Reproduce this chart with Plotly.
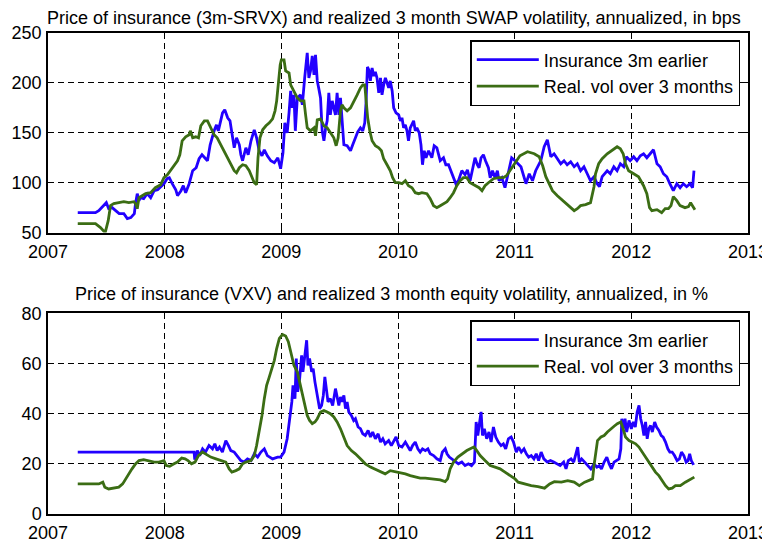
import plotly.graph_objects as go

# ---------------- Top panel: SWAP (bps) ----------------
swap_ins_t = [2007.255, 2007.407, 2007.435, 2007.478, 2007.50, 2007.52, 2007.55, 2007.58, 2007.61, 2007.65,
              2007.68, 2007.71, 2007.74, 2007.75, 2007.765, 2007.78, 2007.79, 2007.82, 2007.85, 2007.88,
              2007.91, 2007.94, 2007.965, 2007.995, 2008.02, 2008.04, 2008.065, 2008.095, 2008.11, 2008.14,
              2008.16, 2008.18, 2008.21, 2008.24, 2008.27, 2008.295, 2008.32, 2008.34, 2008.367, 2008.39,
              2008.41, 2008.424, 2008.444, 2008.46, 2008.48, 2008.496, 2008.515, 2008.54, 2008.56, 2008.58,
              2008.596, 2008.616, 2008.64, 2008.653, 2008.668, 2008.696, 2008.716, 2008.74, 2008.768, 2008.788,
              2008.81, 2008.834, 2008.854, 2008.88, 2008.91, 2008.94, 2008.97, 2008.994,
              2009.014, 2009.03, 2009.05, 2009.066, 2009.08, 2009.094, 2009.108, 2009.12, 2009.137, 2009.165,
              2009.18, 2009.2, 2009.222, 2009.236, 2009.25, 2009.265, 2009.28, 2009.293, 2009.308, 2009.32,
              2009.336, 2009.35, 2009.365, 2009.38, 2009.393, 2009.407, 2009.42, 2009.436, 2009.464, 2009.478,
              2009.493, 2009.507, 2009.52, 2009.536, 2009.564, 2009.593, 2009.612, 2009.635, 2009.655, 2009.678,
              2009.698, 2009.715, 2009.726, 2009.738, 2009.75, 2009.763, 2009.778, 2009.792, 2009.806, 2009.82,
              2009.835, 2009.85, 2009.863, 2009.877, 2009.892, 2009.92, 2009.934, 2009.95, 2009.963, 2009.983,
              2010.006, 2010.02, 2010.034, 2010.048, 2010.063, 2010.077, 2010.09, 2010.105, 2010.12, 2010.134,
              2010.148, 2010.162, 2010.182, 2010.197, 2010.21, 2010.225, 2010.24, 2010.262, 2010.29, 2010.31,
              2010.333, 2010.362, 2010.39, 2010.41, 2010.433, 2010.453, 2010.48, 2010.496, 2010.518, 2010.547,
              2010.575, 2010.595, 2010.618, 2010.638, 2010.66, 2010.68, 2010.695, 2010.712, 2010.732, 2010.75,
              2010.775, 2010.79, 2010.81, 2010.832, 2010.852, 2010.866, 2010.89, 2010.917, 2010.937, 2010.954,
              2010.974, 2011.003,
              2011.026, 2011.054, 2011.097, 2011.125, 2011.153, 2011.18, 2011.224, 2011.253, 2011.28, 2011.295,
              2011.31, 2011.338, 2011.366, 2011.395, 2011.423, 2011.45, 2011.48, 2011.51, 2011.537, 2011.565,
              2011.594, 2011.622, 2011.65, 2011.68, 2011.707, 2011.727, 2011.75, 2011.793, 2011.82, 2011.85,
              2011.878, 2011.906, 2011.935, 2011.957, 2011.99, 2012.02, 2012.048, 2012.077, 2012.105, 2012.133,
              2012.16, 2012.19, 2012.22, 2012.247, 2012.275, 2012.304, 2012.33, 2012.36, 2012.39, 2012.418,
              2012.446, 2012.474, 2012.503, 2012.525, 2012.537]
swap_ins_v = [70, 70, 72, 77, 80, 74, 75, 72, 69, 69,
              64, 65, 69, 79, 89, 82, 85, 84, 89, 85,
              92, 93, 96, 99, 104, 105, 99, 93, 87, 92,
              97, 90, 99, 112, 115, 124, 128, 125, 122, 138,
              148, 152, 158, 152, 162, 170, 173, 165, 162, 145,
              135, 145, 138, 128, 122, 135, 128, 142, 153, 145,
              132, 127, 133, 127, 122, 120, 125, 114,
              130, 160, 150, 170, 192, 175, 188, 152, 185, 188,
              178, 205, 230, 205, 212, 227, 208, 228, 202, 195,
              185, 152, 142, 155, 162, 190, 168, 182, 168, 190,
              168, 185, 162, 138, 137, 132, 138, 145, 151, 155,
              152, 160, 180, 216, 213, 202, 215, 207, 211, 205,
              190, 205, 188, 198, 205, 195, 202, 192, 175, 170,
              168, 162, 165, 155, 158, 152, 142, 155, 158, 162,
              152, 155, 150, 138, 118, 132, 125, 132, 125, 137,
              135, 122, 125, 118, 118, 112, 105, 99, 102, 112,
              108, 113, 102, 112, 125, 118, 115, 125, 128, 122,
              115, 105, 112, 105, 112, 102, 105, 95, 105, 112,
              125, 122,
              119, 116, 99, 109, 102, 112, 122, 136, 143, 133,
              126, 129, 124, 119, 122, 118, 121, 116, 119, 112,
              116, 109, 102, 106, 99, 96, 106, 112, 109, 116,
              112, 119, 116, 126, 122, 126, 122, 127, 129, 125,
              129, 133, 119, 116, 109, 106, 99, 92, 99, 95,
              99, 96, 99, 95, 112]

swap_vol_t = [2007.255, 2007.407, 2007.45, 2007.49, 2007.516, 2007.536, 2007.564, 2007.607, 2007.65, 2007.693,
              2007.736, 2007.75, 2007.765, 2007.78, 2007.81, 2007.837, 2007.88, 2007.92, 2007.966, 2007.994,
              2008.023, 2008.05, 2008.08, 2008.11, 2008.13, 2008.15, 2008.18, 2008.21, 2008.22, 2008.24,
              2008.266, 2008.29, 2008.31, 2008.34, 2008.367, 2008.395, 2008.424, 2008.45, 2008.48, 2008.51,
              2008.54, 2008.567, 2008.596, 2008.616, 2008.64, 2008.668, 2008.696, 2008.725, 2008.748, 2008.768,
              2008.788, 2008.80, 2008.817, 2008.84, 2008.868, 2008.897, 2008.925, 2008.946, 2008.96, 2008.974,
              2008.99, 2009.0, 2009.023, 2009.037, 2009.066, 2009.08, 2009.108, 2009.137, 2009.165, 2009.194,
              2009.208, 2009.222, 2009.25, 2009.28, 2009.293, 2009.308, 2009.336, 2009.365, 2009.393, 2009.42,
              2009.45, 2009.47, 2009.487, 2009.507, 2009.52, 2009.536, 2009.564, 2009.593, 2009.62, 2009.65,
              2009.678, 2009.698, 2009.715, 2009.726, 2009.74, 2009.758, 2009.778, 2009.806, 2009.835, 2009.858,
              2009.877, 2009.906, 2009.934, 2009.954, 2009.977, 2010.006, 2010.034, 2010.063, 2010.09, 2010.12,
              2010.148, 2010.177, 2010.205, 2010.248, 2010.276, 2010.305, 2010.333, 2010.362, 2010.39, 2010.42,
              2010.447, 2010.476, 2010.504, 2010.533, 2010.56, 2010.59, 2010.618, 2010.66, 2010.695, 2010.72,
              2010.746, 2010.775, 2010.818, 2010.86, 2010.903, 2010.93, 2010.96, 2010.99, 2011.017, 2011.045,
              2011.11, 2011.168, 2011.21, 2011.24, 2011.267, 2011.295, 2011.324, 2011.366, 2011.395, 2011.437,
              2011.48, 2011.51, 2011.537, 2011.565, 2011.608, 2011.65, 2011.68, 2011.693, 2011.72, 2011.75,
              2011.793, 2011.82, 2011.85, 2011.878, 2011.906, 2011.93, 2011.95, 2011.977, 2012.02, 2012.062,
              2012.105, 2012.133, 2012.156, 2012.176, 2012.22, 2012.26, 2012.29, 2012.318, 2012.34, 2012.36,
              2012.39, 2012.418, 2012.46, 2012.49, 2012.508, 2012.525, 2012.545]
swap_vol_v = [59, 59, 55, 50, 62, 77, 79, 80, 81, 80,
              81, 79, 74, 85, 87, 89, 90, 95, 98, 105,
              108, 112, 117, 122, 128, 142, 146, 148, 152, 145,
              146, 145, 157, 162, 162, 155, 148, 145, 138, 132,
              125, 118, 112, 110, 115, 118, 117, 112, 105, 100,
              98, 125, 145, 153, 157, 160, 164, 172, 182, 202,
              218, 223, 223, 212, 210, 198, 192, 185, 182, 182,
              168, 155, 152, 155, 147, 163, 164, 157, 155, 150,
              145, 137, 145, 172, 178, 175, 172, 175, 182, 188,
              195, 198, 198, 185, 165, 152, 142, 137, 135, 132,
              124, 118, 112, 105, 100, 100, 99, 102, 97, 95,
              90, 89, 90, 89, 84, 77, 75, 77, 79, 81,
              85, 90, 97, 102, 105, 105, 100, 97, 95, 92,
              97, 100, 104, 105, 105, 107, 112, 118, 122, 127,
              131, 129, 126, 117, 106, 99, 92, 87, 84, 79,
              75, 72, 74, 77, 78, 80, 96, 109, 119, 124,
              129, 131, 134, 136, 134, 129, 119, 112, 109, 106,
              97, 89, 75, 72, 73, 70, 74, 74, 77, 86,
              82, 77, 75, 76, 80, 77, 73]

# ---------------- Bottom panel: equity (%) ----------------
eq_ins_t = [2007.255, 2008.252, 2008.258, 2008.28, 2008.30, 2008.325, 2008.35, 2008.38, 2008.41, 2008.43,
            2008.45, 2008.47, 2008.495, 2008.524, 2008.547, 2008.567, 2008.596, 2008.625, 2008.653, 2008.68,
            2008.71, 2008.74, 2008.768, 2008.797, 2008.825, 2008.854, 2008.88, 2008.925, 2008.968, 2008.994,
            2009.023, 2009.05, 2009.07, 2009.09, 2009.1, 2009.117, 2009.128, 2009.14, 2009.157, 2009.174,
            2009.185, 2009.2, 2009.217, 2009.228, 2009.242, 2009.26, 2009.273, 2009.288, 2009.308, 2009.328,
            2009.345, 2009.36, 2009.373, 2009.387, 2009.4, 2009.42, 2009.44, 2009.464, 2009.48, 2009.493,
            2009.507, 2009.52, 2009.536, 2009.55, 2009.564, 2009.578, 2009.6, 2009.62, 2009.635, 2009.658,
            2009.678, 2009.698, 2009.72, 2009.744, 2009.764, 2009.783, 2009.806, 2009.83, 2009.85, 2009.87,
            2009.89, 2009.92, 2009.943, 2009.963, 2009.983, 2010.006, 2010.034, 2010.063, 2010.085, 2010.105,
            2010.125, 2010.148, 2010.17, 2010.19, 2010.21, 2010.234, 2010.256, 2010.276, 2010.305, 2010.333,
            2010.362, 2010.38, 2010.405, 2010.42, 2010.44, 2010.46, 2010.49, 2010.518, 2010.547, 2010.575,
            2010.604, 2010.63, 2010.655, 2010.67, 2010.684, 2010.698, 2010.712, 2010.724, 2010.74, 2010.76,
            2010.78, 2010.798, 2010.818, 2010.838, 2010.86, 2010.883, 2010.903, 2010.923, 2010.946, 2010.97,
            2010.99, 2011.014, 2011.034, 2011.057, 2011.08, 2011.1, 2011.12, 2011.142, 2011.165, 2011.185,
            2011.205, 2011.227, 2011.25, 2011.28, 2011.307, 2011.335, 2011.364, 2011.39, 2011.42, 2011.44,
            2011.46, 2011.483, 2011.506, 2011.525, 2011.54, 2011.554, 2011.574, 2011.6, 2011.625, 2011.653,
            2011.68, 2011.705, 2011.725, 2011.744, 2011.767, 2011.79, 2011.81, 2011.83, 2011.852, 2011.875,
            2011.895, 2011.91, 2011.918, 2011.93, 2011.946, 2011.96, 2011.98, 2012.0, 2012.017, 2012.034,
            2012.05, 2012.066, 2012.08, 2012.094, 2012.108, 2012.122, 2012.136, 2012.15, 2012.165, 2012.18,
            2012.2, 2012.216, 2012.236, 2012.256, 2012.273, 2012.293, 2012.313, 2012.33, 2012.35, 2012.37,
            2012.392, 2012.412, 2012.43, 2012.45, 2012.47, 2012.486, 2012.5, 2012.514, 2012.534]
eq_ins_v = [24.7, 24.7, 21.7, 25.3, 23.3, 26, 24.7, 27.3, 26, 28,
            25.3, 26.7, 24.7, 29.3, 27.3, 25.3, 24.7, 22.7, 21.3, 20.7,
            22, 21.3, 24, 22.7, 24.7, 26, 23.3, 22, 22.7, 22.7,
            24.7, 30, 36.7, 44.7, 51.3, 46, 62, 48.7, 54, 63.3,
            56.7, 62, 69.3, 59.3, 62, 56.7, 58, 52.7, 47.3, 42,
            43.3, 47.3, 54.7, 48.7, 44.7, 46, 43.3, 50, 46, 43.3,
            46.7, 44.7, 47.3, 42, 44.7, 40.7, 39.3, 37.3, 38, 34.7,
            34, 32, 31.3, 33.3, 30.7, 32.7, 30, 32, 28.7, 30,
            28, 29.3, 27.3, 29.3, 30.7, 27.3, 26.7, 28.7, 26.7, 25.3,
            27.3, 28.7, 26, 24.7, 26, 25.3, 26, 24, 23.3, 22,
            21.3, 24.7, 26, 24, 22.7, 22, 20.7, 20, 20.7, 19.3,
            20, 19.3, 20.7, 36.7, 31.3, 35.3, 40.7, 31.3, 34, 30,
            32.7, 28.7, 34.7, 30.7, 28.7, 27.3, 28, 26, 30, 30.7,
            28.7, 24.7, 26.7, 24.7, 26, 24, 22.7, 23.3, 22, 24,
            21.3, 24.7, 22, 20.7, 21.3, 20.7, 20, 19.3, 20.7, 18,
            21.3, 22, 20.7, 24.7, 26.7, 20.7, 22, 20.7, 19.3, 18,
            20, 18.7, 19.3, 18, 20.7, 22.7, 20, 18, 20.7, 21.3,
            22, 26, 38, 34, 38, 32.7, 37.3, 34, 36.7, 34.7,
            40.7, 43.3, 38, 35.3, 31.3, 36.7, 30, 34, 35.3, 32.7,
            36.7, 34.7, 33.3, 31.3, 30.7, 28.7, 26, 24.7, 24.7, 23.3,
            21.3, 22, 24.7, 23.3, 20.7, 21.3, 24, 21.3, 19.6]

eq_vol_t = [2007.255, 2007.435, 2007.47, 2007.487, 2007.52, 2007.564, 2007.607, 2007.64, 2007.665, 2007.693,
            2007.72, 2007.75, 2007.78, 2007.82, 2007.865, 2007.91, 2007.95, 2007.994, 2008.014, 2008.043,
            2008.08, 2008.11, 2008.146, 2008.175, 2008.2, 2008.23, 2008.26, 2008.29, 2008.324, 2008.35,
            2008.395, 2008.44, 2008.48, 2008.524, 2008.553, 2008.576, 2008.61, 2008.64, 2008.668, 2008.696,
            2008.74, 2008.768, 2008.788, 2008.81, 2008.834, 2008.854, 2008.874, 2008.897, 2008.92, 2008.94,
            2008.96, 2008.983, 2009.01, 2009.037, 2009.06, 2009.08, 2009.108, 2009.137, 2009.157, 2009.18,
            2009.2, 2009.222, 2009.242, 2009.265, 2009.288, 2009.308, 2009.336, 2009.365, 2009.393, 2009.42,
            2009.45, 2009.478, 2009.507, 2009.536, 2009.564, 2009.6, 2009.635, 2009.678, 2009.72, 2009.764,
            2009.806, 2009.85, 2009.89, 2009.934, 2009.977, 2010.02, 2010.063, 2010.105, 2010.148, 2010.19,
            2010.234, 2010.276, 2010.32, 2010.362, 2010.404, 2010.425, 2010.447, 2010.476, 2010.513, 2010.547,
            2010.59, 2010.632, 2010.652, 2010.675, 2010.704, 2010.746, 2010.79, 2010.832, 2010.875, 2010.917,
            2010.96, 2011.003, 2011.03, 2011.085, 2011.142, 2011.2, 2011.256, 2011.3, 2011.34, 2011.4,
            2011.455, 2011.51, 2011.554, 2011.6, 2011.64, 2011.668, 2011.68, 2011.696, 2011.71, 2011.74,
            2011.767, 2011.795, 2011.824, 2011.852, 2011.88, 2011.91, 2011.93, 2011.95, 2011.98, 2012.01,
            2012.037, 2012.065, 2012.094, 2012.122, 2012.15, 2012.18, 2012.207, 2012.236, 2012.264, 2012.293,
            2012.32, 2012.35, 2012.378, 2012.42, 2012.463, 2012.506, 2012.54]
eq_vol_v = [12, 12, 12.7, 10.7, 10, 10.3, 10.7, 12, 14, 16,
            18, 20, 21.3, 21.7, 21.3, 20.7, 20.7, 21.3, 19.3, 19,
            20, 20.7, 22.3, 22, 21.3, 20, 20.7, 23.3, 24.7, 24,
            22.7, 22, 21.3, 20.7, 18, 16.7, 17.3, 18, 20, 20.7,
            21.3, 23.3, 27.3, 32.7, 39.3, 46, 51.3, 54.7, 58, 61.3,
            66, 70, 71.6, 71, 68.7, 64.7, 59.3, 56.7, 52.7, 48.7,
            44.7, 39.3, 37.3, 36, 36.7, 38, 40.7, 41.3, 40.7, 40,
            38.7, 36.7, 34, 30.7, 27.3, 25.3, 24, 22, 20, 18.7,
            17.7, 16.9, 16, 17.3, 16.9, 16.4, 16, 15.3, 14.7, 14.3,
            14.3, 14, 13.7, 13.6, 12.9, 14, 18, 20.7, 22.7, 24,
            25.3, 26.3, 26.7, 25.3, 23.3, 21.3, 19.3, 18.7, 18, 16.7,
            15.3, 14, 12.7, 12, 11.3, 10.9, 10.3, 12, 12.9, 12.7,
            13.3, 12.7, 11.3, 12.7, 13.3, 14, 19.3, 26, 29.3, 30.7,
            31.3, 32.7, 34, 35, 36, 36.7, 34, 30.7, 29.3, 28.7,
            28, 26.7, 24.7, 22.7, 20.7, 18.7, 16.7, 15.3, 13.3, 11.3,
            10, 10.3, 11.3, 11.3, 12.7, 13.7, 14.7]

year_ticks = [2007, 2008, 2009, 2010, 2011, 2012, 2013]
swap_ticks = [50, 100, 150, 200, 250]
eq_ticks = [0, 20, 40, 60, 80]

name_ins = "Insurance 3m earlier"
name_vol = "Real. vol over 3 months"
title_top = "Price of insurance (3m-SRVX) and realized 3 month SWAP volatility, annualized, in bps"
title_bot = "Price of insurance (VXV) and realized 3 month equity volatility, annualized, in %"

BLUE = "#2200ff"
GREEN = "#3b6d14"
FONT = "Liberation Sans, Arial, Helvetica, sans-serif"
LW = 2.8

fig = go.Figure()
fig.add_trace(go.Scatter(x=swap_ins_t, y=swap_ins_v, mode="lines", name=name_ins,
                         line=dict(color=BLUE, width=LW), xaxis="x", yaxis="y", legend="legend"))
fig.add_trace(go.Scatter(x=swap_vol_t, y=swap_vol_v, mode="lines", name=name_vol,
                         line=dict(color=GREEN, width=LW), xaxis="x", yaxis="y", legend="legend"))
fig.add_trace(go.Scatter(x=eq_ins_t, y=eq_ins_v, mode="lines", name=name_ins,
                         line=dict(color=BLUE, width=LW), xaxis="x2", yaxis="y2", legend="legend2"))
fig.add_trace(go.Scatter(x=eq_vol_t, y=eq_vol_v, mode="lines", name=name_vol,
                         line=dict(color=GREEN, width=LW), xaxis="x2", yaxis="y2", legend="legend2"))

axis_common = dict(showline=True, linecolor="black", linewidth=1.5, mirror="allticks",
                   ticks="inside", ticklen=5, tickcolor="black", automargin=False,
                   showgrid=True, gridcolor="black", griddash="6px,4px", gridwidth=1,
                   zeroline=False, tickfont=dict(family=FONT, size=18, color="black"))

legend_common = dict(xanchor="right", yanchor="top", bgcolor="white", bordercolor="black",
                     borderwidth=1.5, font=dict(family=FONT, size=18, color="black"),
                     tracegroupgap=0, itemwidth=62)

# The page body has an 8px default margin, so the figure is sized to fit 770x543 with it.
fig.update_layout(
    width=762, height=535,
    margin=dict(l=40, r=22, t=25, b=29, autoexpand=False),
    paper_bgcolor="white", plot_bgcolor="white",
    font=dict(family=FONT, color="black"),
    xaxis=dict(domain=[0, 1], anchor="y", range=[2007, 2013], tickvals=year_ticks,
               ticktext=[str(t) for t in year_ticks], ticklabelstandoff=2, **axis_common),
    yaxis=dict(domain=[0.585, 1], anchor="x", range=[50, 250], tickvals=swap_ticks,
               ticklabelstandoff=1, **axis_common),
    xaxis2=dict(domain=[0, 1], anchor="y2", range=[2007, 2013], tickvals=year_ticks,
                ticktext=[str(t) for t in year_ticks], ticklabelstandoff=2, **axis_common),
    yaxis2=dict(domain=[0, 0.417], anchor="x2", range=[0, 80], tickvals=eq_ticks,
                ticklabelstandoff=1, **axis_common),
    legend=dict(x=0.989, y=0.9854, **legend_common),
    legend2=dict(x=0.989, y=0.4033, **legend_common),
    showlegend=True,
    annotations=[
        dict(text=title_top, x=0.494, y=1.0, xref="paper", yref="paper", yshift=15,
             showarrow=False, xanchor="center", yanchor="middle",
             font=dict(family=FONT, size=18, color="black")),
        dict(text=title_bot, x=0.491, y=0.417, xref="paper", yref="paper", yshift=19,
             showarrow=False, xanchor="center", yanchor="middle",
             font=dict(family=FONT, size=18, color="black")),
    ],
)

fig.write_html("out.html")
